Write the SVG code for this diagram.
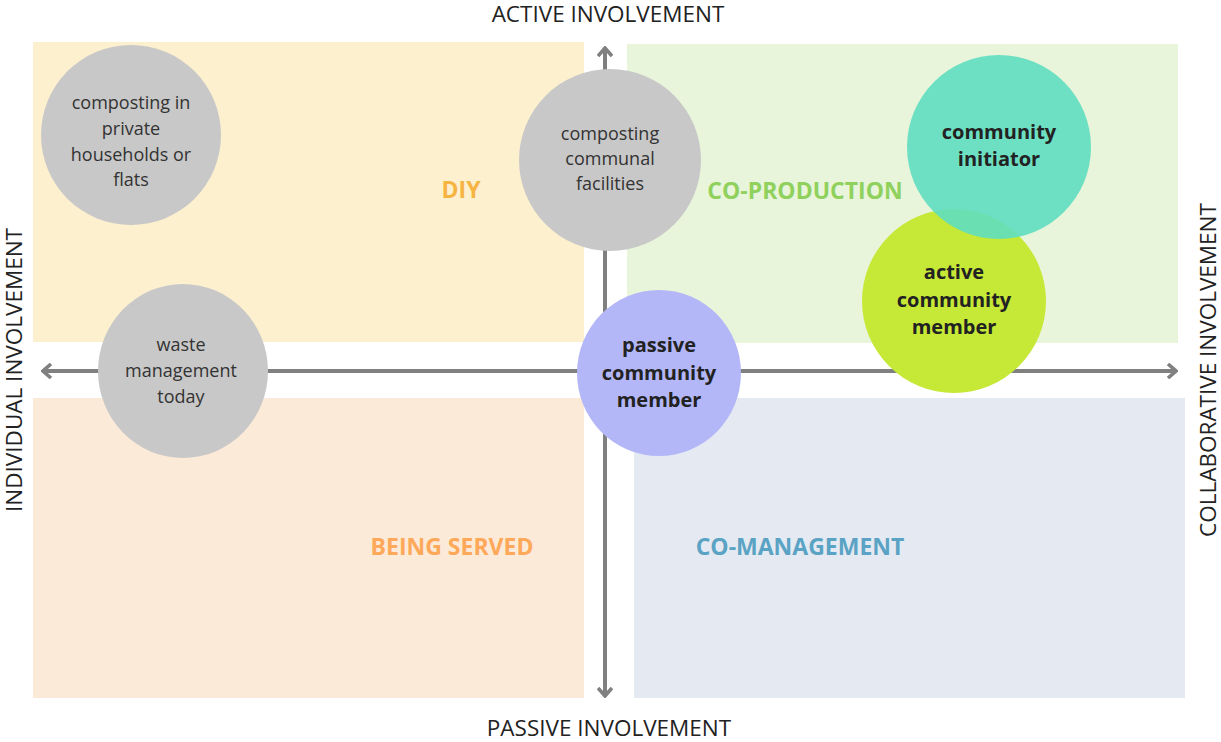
<svg xmlns="http://www.w3.org/2000/svg" width="1221" height="742" viewBox="0 0 1221 742">
<style>
.axis{font-family:"Open Sans","Liberation Sans",sans-serif;font-size:22.5px;fill:#222;text-anchor:middle}
.quad{font-family:"Open Sans","Liberation Sans",sans-serif;font-size:23px;font-weight:700;text-anchor:middle}
.gt{font-family:"Open Sans","Liberation Sans",sans-serif;font-size:18px;fill:#333;text-anchor:middle}
.bt{font-family:"Open Sans","Liberation Sans",sans-serif;font-size:20px;font-weight:700;fill:#222;text-anchor:middle}
.ax{stroke:#808080;stroke-width:4;fill:none}
.gray{fill:#c8c8c8}
</style>
<defs>
<marker id="chev" viewBox="0 0 12 16" refX="10" refY="8" markerWidth="12" markerHeight="16" markerUnits="userSpaceOnUse" orient="auto">
<path d="M2,1 L10,8 L2,15" fill="none" stroke="#808080" stroke-width="3.6"/>
</marker>
</defs>
<g id="quadrants">
<rect id="diy" x="33" y="42" width="551" height="300" fill="#fdf0cf"/>
<rect id="coproduction" x="627" y="44" width="551" height="299" fill="#e8f5db"/>
<rect id="beingserved" x="33" y="398" width="551" height="300" fill="#fcead8"/>
<rect id="comanagement" x="634" y="398" width="551" height="300" fill="#e5eaf2"/>
<text class="quad" x="461" y="198" fill="#f6b443">DIY</text>
<text class="quad" x="805" y="199" fill="#8fd15c">CO-PRODUCTION</text>
<text class="quad" x="452" y="555" fill="#fea85a">BEING SERVED</text>
<text class="quad" x="800" y="555" fill="#5ba3c4">CO-MANAGEMENT</text>
</g>
<g id="connectors">
<line class="ax" x1="605" y1="371" x2="605" y2="48" marker-end="url(#chev)"/>
<line class="ax" x1="605" y1="371" x2="605" y2="696" marker-end="url(#chev)"/>
<line class="ax" x1="605" y1="371" x2="43" y2="371" marker-end="url(#chev)"/>
<line class="ax" x1="605" y1="371" x2="1176" y2="371" marker-end="url(#chev)"/>
</g>
<g id="axis-labels">
<text class="axis" x="608" y="22">ACTIVE INVOLVEMENT</text>
<text class="axis" x="609" y="736">PASSIVE INVOLVEMENT</text>
<text class="axis" transform="translate(22,370) rotate(-90)">INDIVIDUAL INVOLVEMENT</text>
<text class="axis" transform="translate(1216,370) rotate(-90)">COLLABORATIVE INVOLVEMENT</text>
</g>
<g id="node-private">
<circle class="gray" cx="131" cy="135" r="90"/>
<text class="gt" x="131" y="109">composting in</text>
<text class="gt" x="131" y="135">private</text>
<text class="gt" x="131" y="161">households or</text>
<text class="gt" x="131" y="186">flats</text>
</g>
<g id="node-communal">
<circle class="gray" cx="610" cy="160" r="91"/>
<text class="gt" x="610" y="140">composting</text>
<text class="gt" x="610" y="165">communal</text>
<text class="gt" x="610" y="190">facilities</text>
</g>
<g id="node-waste">
<ellipse class="gray" cx="183" cy="371" rx="85" ry="87"/>
<text class="gt" x="181" y="351">waste</text>
<text class="gt" x="181" y="377">management</text>
<text class="gt" x="181" y="403">today</text>
</g>
<g id="node-passive">
<ellipse cx="659" cy="373" rx="82" ry="83" fill="#b3b7f8"/>
<text class="bt" x="659" y="352">passive</text>
<text class="bt" x="659" y="380">community</text>
<text class="bt" x="659" y="407">member</text>
</g>
<g id="node-active">
<circle cx="954" cy="301" r="92" fill="#c6e836"/>
<text class="bt" x="954" y="279">active</text>
<text class="bt" x="954" y="307">community</text>
<text class="bt" x="954" y="334">member</text>
</g>
<g id="node-initiator">
<circle cx="999" cy="147" r="92" fill="#5fdec0" opacity="0.9"/>
<text class="bt" x="999" y="139">community</text>
<text class="bt" x="999" y="166">initiator</text>
</g>
</svg>
